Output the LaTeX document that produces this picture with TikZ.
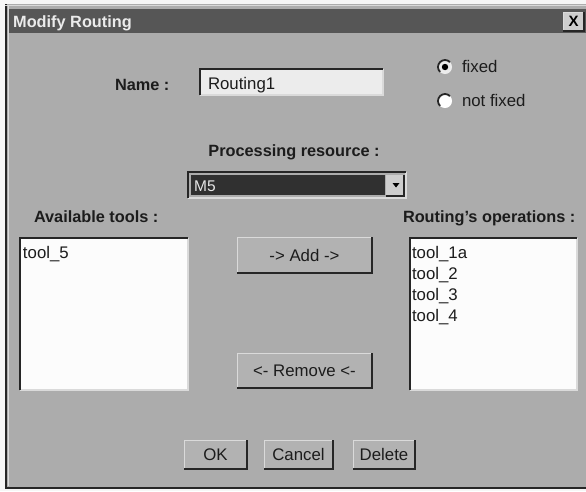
\documentclass[tikz,border=0pt]{standalone}
\usepackage{fontspec}
\setmainfont{Liberation Sans}
\definecolor{pagebg}{RGB}{246,246,246}
\definecolor{bodygray}{RGB}{172,172,172}
\definecolor{titlegray}{RGB}{86,86,86}
\definecolor{edgedark}{RGB}{38,38,38}
\definecolor{edgelight}{RGB}{218,218,218}
\definecolor{fieldfill}{RGB}{236,236,236}
\definecolor{listfill}{RGB}{252,252,252}
\definecolor{combofill}{RGB}{48,48,48}
\definecolor{btnface}{RGB}{178,178,178}
\definecolor{arrowface}{RGB}{205,205,205}
\definecolor{inktext}{RGB}{28,28,28}
\begin{document}
\begin{tikzpicture}[x=1pt,y=-1pt,
  box/.style={inner sep=0pt, outer sep=0pt, anchor=north west},
  txt/.style={inner sep=0pt, outer sep=0pt, anchor=base west, text=inktext,
              font=\fontsize{16.8}{19}\selectfont},
  lbl/.style={inner sep=0pt, outer sep=0pt, anchor=base west, text=inktext,
              font=\fontsize{16.3}{19}\selectfont\bfseries},
  darkedge/.style={draw=edgedark, line width=1.6pt},
  lightedge/.style={draw=edgelight, line width=1.2pt},
  btnshadow/.style={draw=edgedark, line width=2pt},
  pushbutton/.style={box, fill=btnface, text=inktext,
                     font=\fontsize{16.8}{19}\selectfont},
]
\useasboundingbox (0,0) rectangle (586,491);
\fill[pagebg] (0,0) rectangle (586,491);

% dialog window
\fill[bodygray] (5,4) rectangle (586,489);
\draw[edgedark, line width=1.5pt] (5.75,4) -- (5.75,488);
\draw[edgelight, line width=1pt] (8,6) -- (8,486);
\draw[edgedark, line width=2.5pt] (5,488) -- (586,488);
\draw[edgelight, line width=1pt] (5,5) -- (586,5);

% title bar
\node[box, fill=titlegray, minimum width=577, minimum height=24] (titlebar) at (9,9) {};
\node[inner sep=0pt, anchor=base west, text=white!92!black,
      font=\fontsize{16.3}{19}\selectfont\bfseries] (title) at (13,27) {Modify Routing};
\node[box, fill=arrowface, minimum width=21, minimum height=19] (close) at (563,12) {};
\draw[edgelight, line width=1pt] (close.south west) -- (close.north west) -- (close.north east);
\draw[edgedark, line width=1.2pt] (close.north east) -- (close.south east) -- (close.south west);
\node[inner sep=0pt, font=\fontsize{15}{18}\selectfont\bfseries, text=black] (closex) at (close.center) {X};

% name field
\node[lbl] (namelbl) at (115,90) {Name :};
\node[box, fill=fieldfill, minimum width=183, minimum height=26] (namebox) at (200,69) {};
\draw[lightedge] (namebox.north east) -- (namebox.south east) -- (namebox.south west);
\draw[darkedge] (namebox.south west) -- (namebox.north west) -- (namebox.north east);
\node[txt] (nametext) at (208,89) {Routing1};

% radio buttons
\coordinate (radioA) at (445,67);
\coordinate (radioB) at (445,101);
\fill[fieldfill] (radioA) circle[radius=7pt];
\draw[edgedark, line width=1.8pt] (radioA) ++(45:7pt) arc[start angle=45, end angle=225, radius=7pt];
\fill[black] (radioA) circle[radius=3.2pt];
\node[txt] (fixedtxt) at (462,72) {fixed};
\fill[white] (radioB) circle[radius=7pt];
\draw[edgedark, line width=1.8pt] (radioB) ++(45:7pt) arc[start angle=45, end angle=225, radius=7pt];
\node[txt] (notfixedtxt) at (462,106) {not fixed};

% processing resource combo box
\node[lbl, anchor=base] (proclbl) at (294,156) {Processing resource :};
\node[box, fill=bodygray, minimum width=218, minimum height=26] (combo) at (188,172) {};
\draw[lightedge] (combo.north east) -- (combo.south east) -- (combo.south west);
\draw[darkedge] (combo.south west) -- (combo.north west) -- (combo.north east);
\node[box, fill=combofill, minimum width=194, minimum height=20] (combosel) at (191,175) {};
\node[inner sep=0pt, anchor=base west, text=white!90!black,
      font=\fontsize{15.5}{18}\selectfont] (combotext) at (194,191) {M5};
\node[box, fill=arrowface, minimum width=18, minimum height=21] (combobtn) at (386,175) {};
\draw[edgedark, line width=1.4pt] (combobtn.north east) -- (combobtn.south east) -- (combobtn.south west);
\fill[black] (392.5,183) -- (399.5,183) -- (396,187.5) -- cycle;

% list labels
\node[lbl] (availlbl) at (34,222) {Available tools :};
\node[lbl] (opslbl) at (403,222) {Routing's operations :};

% available tools list
\node[box, fill=listfill, minimum width=168, minimum height=152] (availlist) at (20,238) {};
\draw[lightedge] (availlist.north east) -- (availlist.south east) -- (availlist.south west);
\draw[darkedge, line width=2pt] (availlist.south west) -- (availlist.north west) -- (availlist.north east);
\node[txt] (avail1) at (23,258) {tool\_5};

% routing operations list
\node[box, fill=listfill, minimum width=167, minimum height=152] (opslist) at (410,238) {};
\draw[lightedge] (opslist.north east) -- (opslist.south east) -- (opslist.south west);
\draw[darkedge, line width=2pt] (opslist.south west) -- (opslist.north west) -- (opslist.north east);
\node[txt] (op1) at (412,258) {tool\_1a};
\node[txt] (op2) at (412,279) {tool\_2};
\node[txt] (op3) at (412,300) {tool\_3};
\node[txt] (op4) at (412,321) {tool\_4};

% add / remove buttons
\node[pushbutton, minimum width=135, minimum height=36] (addbtn) at (237,237) {-> Add ->};
\node[pushbutton, minimum width=135, minimum height=35] (rembtn) at (237,353) {<- Remove <-};

% bottom buttons
\node[pushbutton, minimum width=63, minimum height=29] (okbtn) at (184,440) {OK};
\node[pushbutton, minimum width=69, minimum height=29] (cancelbtn) at (264,440) {Cancel};
\node[pushbutton, minimum width=62, minimum height=29] (deletebtn) at (353,440) {Delete};

% raised edges of the push buttons
\foreach \b in {addbtn,rembtn,okbtn,cancelbtn,deletebtn}{
  \draw[edgelight, line width=1pt] (\b.south west) -- (\b.north west) -- (\b.north east);
  \draw[btnshadow] (\b.north east) -- (\b.south east) -- (\b.south west);
}
\end{tikzpicture}
\end{document}
